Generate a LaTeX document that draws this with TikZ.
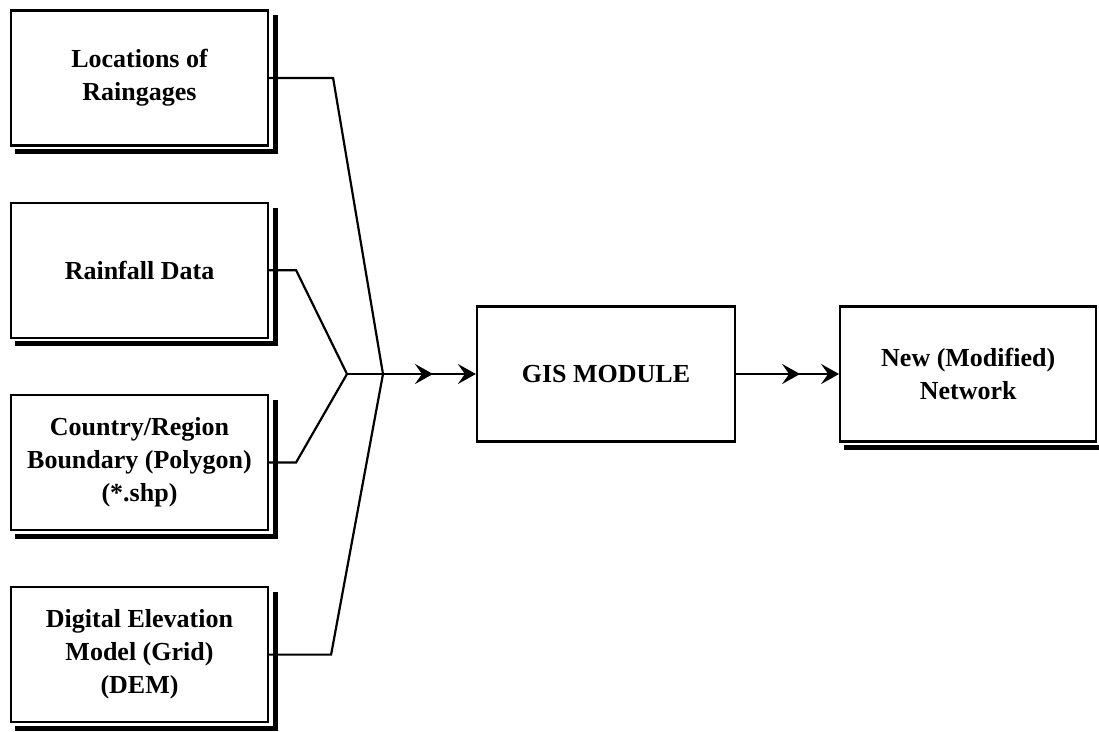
\documentclass[tikz,border=0pt]{standalone}
\usepackage{fontspec}
\setmainfont{Liberation Serif}
\usepackage{tikz}
\usetikzlibrary{arrows.meta, positioning, decorations.markings}
\tikzset{
    tip/.style = {-{Stealth[length=18pt, width=20pt, inset=7pt]}},
    inbox/.style = {rectangle, draw, line width=2.2pt, fill=white, align=center, inner sep=0pt, minimum width=257pt, minimum height=135pt, font=\fontsize{26}{33}\selectfont\bfseries},
    shadowline/.style = {draw, line width=5pt, line join=miter},
    link/.style = {draw, line width=2.2pt, line join=miter}
}

\begin{document}
\begin{tikzpicture}[
        x=1pt, y=1pt,
        node distance=55pt and 103pt,
        % STYLES
        modbox/.style = {inbox, minimum width=258pt},
        outbox/.style = {inbox, minimum width=256pt},
        flow/.style = {link, tip, postaction={decorate},
            decoration={markings, mark=at position #1 with {\arrow{Stealth[length=18pt, width=20pt, inset=7pt]}}}}
    ]
        \useasboundingbox (0,0) rectangle (1099,-731);

        % --- NODES ---
        % Inputs
        \node [inbox] at (139.5,-78) (loc) {Locations of\\Raingages};
        \node [inbox, below=of loc] (rain) {Rainfall Data};
        \node [inbox, below=of rain] (bound) {Country/Region\\Boundary (Polygon)\\(*.shp)};
        \node [inbox, below=of bound] (dem) {Digital Elevation\\Model (Grid)\\(DEM)};

        % Processing and result
        \node [modbox] at (606,-374) (gis) {GIS MODULE};
        \node [outbox, right=of gis] (net) {New (Modified)\\Network};

        % shadows
        \foreach \n in {loc, rain, bound, dem, net}
            \path [shadowline] ([xshift=6pt, yshift=-6pt]\n.north east) -- ([xshift=6pt, yshift=-5pt]\n.south east) -- ([xshift=5pt, yshift=-5pt]\n.south west);

        % junctions
        \coordinate (jin) at (347,-374);
        \coordinate (jout) at (383,-374);

        % --- PATHS ---
        \path [link] (loc.east) -- ++(64,0) -- (jout);
        \path [link] (rain.east) -- ++(27,0) -- (jin);
        \path [link] (bound.east) -- ++(27,0) -- (jin);
        \path [link] (dem.east) -- ++(62,0) -- (jout);
        \path [flow=86pt] (jin) -- (gis.west);
        \path [flow=64pt] (gis.east) -- (net.west);

    \end{tikzpicture}
\end{document}
